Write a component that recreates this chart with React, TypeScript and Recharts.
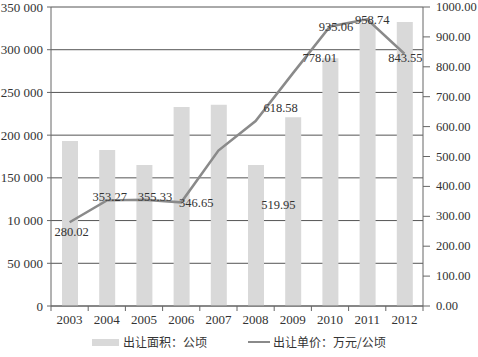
import { ComposedChart, Bar, Line, XAxis, YAxis, CartesianGrid, Legend, LabelList } from "recharts";

const years = ["2003", "2004", "2005", "2006", "2007", "2008", "2009", "2010", "2011", "2012"];
const area = [193000, 182500, 165000, 233000, 235500, 165000, 221000, 290000, 331000, 332500];
const price = [280.02, 353.27, 355.33, 346.65, 519.95, 618.58, 778.01, 935.06, 958.74, 843.55];
const leftTicks = [0, 50000, 100000, 150000, 200000, 250000, 300000, 350000];
const leftTickLabels = ["0", "50 000", "10 000", "150 000", "200 000", "250 000", "300 000", "350 000"];
const rightTicks = [0, 100, 200, 300, 400, 500, 600, 700, 800, 900, 1000];

const data = years.map((year, i) => ({ year, area: area[i], price: price[i] }));

const W = 478;
const H = 357;
const PLOT_LEFT = 51;
const PLOT_RIGHT = 423;
const BAND = (PLOT_RIGHT - PLOT_LEFT) / years.length;
const FONT = "'Liberation Serif', 'Noto Sans CJK SC', serif";
const TEXT = "#333";
const AXIS = "#666";

// label nudges, copied from where the labels sit in the original
const nudge: [number, number][] = [
  [2, 10], [3, -3], [11, -3], [15, 1], [60, 54],
  [25, -13], [27, -15], [6, 1], [5, 1], [1, 4],
];

const PriceLabel = (props: any) => {
  const { x, y, index, value } = props;
  const [dx, dy] = nudge[index] || [0, 0];
  return (
    <text x={x + dx} y={y + dy} textAnchor="middle" dominantBaseline="central"
      fontSize={12.5} fontFamily={FONT} fill={TEXT}>
      {Number(value).toFixed(2)}
    </text>
  );
};

const YearTick = (props: any) => {
  const { x, y, payload, index } = props;
  const left = x - BAND / 2;
  return (
    <g>
      <line x1={left} y1={y - 8} x2={left} y2={y - 3} stroke={AXIS} />
      {index === years.length - 1 && (
        <line x1={left + BAND} y1={y - 8} x2={left + BAND} y2={y - 3} stroke={AXIS} />
      )}
      <text x={x} y={y + 10} textAnchor="middle" fontSize={13} fontFamily={FONT} fill={TEXT}>
        {payload.value}
      </text>
    </g>
  );
};

const AreaTick = (props: any) => {
  const { x, y, payload } = props;
  return (
    <text x={x} y={y} textAnchor="end" dominantBaseline="central" fontSize={13} fontFamily={FONT} fill={TEXT}>
      {leftTickLabels[leftTicks.indexOf(payload.value)]}
    </text>
  );
};

const PriceTick = (props: any) => {
  const { x, y, payload } = props;
  return (
    <text x={x} y={y} textAnchor="start" dominantBaseline="central" fontSize={12.5} fontFamily={FONT} fill={TEXT}>
      {Number(payload.value).toFixed(2)}
    </text>
  );
};

const LegendBox = () => (
  <div style={{ position: "relative", height: 20, fontFamily: "'Noto Sans CJK SC', sans-serif", fontSize: 12, color: TEXT }}>
    <div style={{ position: "absolute", left: 92, top: 7, width: 27, height: 7, background: "#d9d9d9" }} />
    <div style={{ position: "absolute", left: 123, top: 1, lineHeight: "18px" }}>出让面积：公顷</div>
    <div style={{ position: "absolute", left: 248, top: 9, width: 22, height: 2, background: "#8a8a8a" }} />
    <div style={{ position: "absolute", left: 273, top: 1, lineHeight: "18px" }}>出让单价：万元/公顷</div>
  </div>
);

export default function App() {
  return (
    <div style={{ position: "absolute", left: 0, top: 0, width: W, height: H, background: "#fff" }}>
      <ComposedChart width={W} height={H} data={data} margin={{ top: 7, right: 0, bottom: 0, left: 0 }}>
        <CartesianGrid vertical={false} stroke="#555" yAxisId="left" />
        <XAxis dataKey="year" axisLine={{ stroke: AXIS }} tickLine={false} height={26} tick={<YearTick />} interval={0} />
        <YAxis yAxisId="left" orientation="left" width={51} domain={[0, 350000]} ticks={leftTicks}
          axisLine={{ stroke: AXIS }} tickLine={{ stroke: AXIS }} tickSize={4} tickMargin={4}
          tick={<AreaTick />} interval={0} />
        <YAxis yAxisId="right" orientation="right" width={55} domain={[0, 1000]} ticks={rightTicks}
          axisLine={{ stroke: AXIS }} tickLine={{ stroke: AXIS }} tickSize={7} tickMargin={6}
          tick={<PriceTick />} interval={0} />
        <Legend verticalAlign="bottom" height={25} content={<LegendBox />} />
        <Bar yAxisId="left" dataKey="area" fill="#d9d9d9" barSize={16} isAnimationActive={false} />
        <Line yAxisId="right" dataKey="price" stroke="#8a8a8a" strokeWidth={2.5} dot={false} type="linear" isAnimationActive={false}>
          <LabelList dataKey="price" content={<PriceLabel />} />
        </Line>
      </ComposedChart>
    </div>
  );
}
